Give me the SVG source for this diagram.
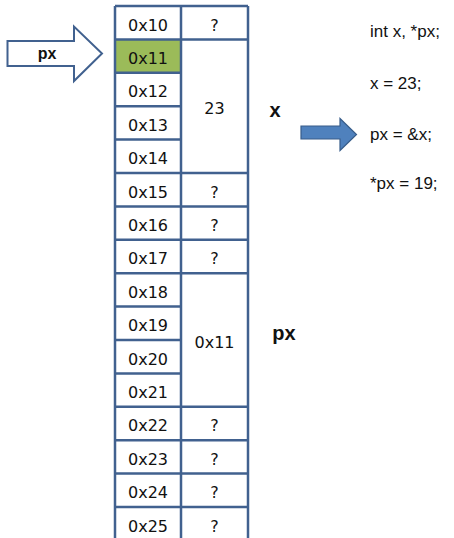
<svg xmlns="http://www.w3.org/2000/svg" width="454" height="538" viewBox="0 0 454 538">
<style>
.grid{stroke:#41618f;stroke-width:2.5;fill:none}
.cell{font-family:"DejaVu Sans",sans-serif;font-size:16px;fill:#111;text-anchor:middle}
.code{font-family:"Liberation Sans",Arial,sans-serif;font-size:17px;fill:#111}
.lbl{font-family:"Liberation Sans",Arial,sans-serif;font-weight:bold;fill:#111}
</style>
<rect width="454" height="538" fill="#fff"/>
<g id="memory">
<rect x="115" y="39.4" width="66" height="33.4" fill="#9bbb59"/>
<g class="grid">
<line x1="115" y1="6" x2="115" y2="540"/>
<line x1="181" y1="6" x2="181" y2="540"/>
<line x1="248" y1="6" x2="248" y2="540"/>
<path d="M115 6H248 M115 39.4H248 M115 72.8H181 M115 106.2H181 M115 139.6H181 M115 173H248 M115 206.4H248 M115 239.8H248 M115 273.2H248 M115 306.6H181 M115 340H181 M115 373.4H181 M115 406.8H248 M115 440.2H248 M115 473.6H248 M115 507H248"/>
</g>
<g class="cell">
<text x="148" y="30.5">0x10</text>
<text x="148" y="63.9">0x11</text>
<text x="148" y="97.3">0x12</text>
<text x="148" y="130.7">0x13</text>
<text x="148" y="164.1">0x14</text>
<text x="148" y="197.5">0x15</text>
<text x="148" y="230.9">0x16</text>
<text x="148" y="264.3">0x17</text>
<text x="148" y="297.7">0x18</text>
<text x="148" y="331.1">0x19</text>
<text x="148" y="364.5">0x20</text>
<text x="148" y="397.9">0x21</text>
<text x="148" y="431.3">0x22</text>
<text x="148" y="464.7">0x23</text>
<text x="148" y="498.1">0x24</text>
<text x="148" y="531.5">0x25</text>
<text x="214.5" y="30.5">?</text>
<text x="214.5" y="114">23</text>
<text x="214.5" y="197.5">?</text>
<text x="214.5" y="230.9">?</text>
<text x="214.5" y="264.3">?</text>
<text x="214.5" y="347.5">0x11</text>
<text x="214.5" y="431.3">?</text>
<text x="214.5" y="464.7">?</text>
<text x="214.5" y="498.1">?</text>
<text x="214.5" y="531.5">?</text>
</g>
</g>
<g id="px-arrow">
<path d="M7.5 41H74V26.5L102 53.5L74 81V66H7.5Z" fill="#fff" stroke="#41618f" stroke-width="2"/>
<text class="lbl" x="47" y="58.5" font-size="16" text-anchor="middle">px</text>
</g>
<g id="label-x"><text class="lbl" x="275" y="117" font-size="20" text-anchor="middle">x</text></g>
<g id="label-px"><text class="lbl" x="284" y="340" font-size="20" text-anchor="middle">px</text></g>
<g id="step-arrow">
<path d="M301 126H340V118.5L356.5 134.5L340 150.5V139H301Z" fill="#4f81bd" stroke="#385d8a" stroke-width="1.2"/>
</g>
<g id="code">
<text class="code" x="370" y="37">int x, *px;</text>
<text class="code" x="370" y="89">x = 23;</text>
<text class="code" x="370" y="140">px = &amp;x;</text>
<text class="code" x="370" y="189">*px = 19;</text>
</g>
</svg>
